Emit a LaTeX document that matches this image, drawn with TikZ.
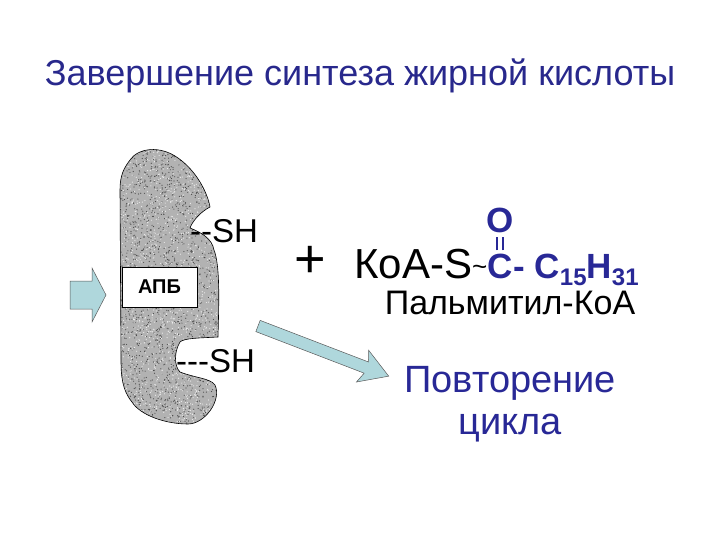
\documentclass[tikz,border=0pt]{standalone}
\usepackage{fontspec}
\setmainfont{Liberation Sans}
\definecolor{ttl}{RGB}{40,40,140}
\definecolor{chem}{RGB}{40,40,150}
\definecolor{arr}{RGB}{175,215,220}
\begin{document}
\begin{tikzpicture}[x=1pt,y=-1pt,
  lbl/.style={inner sep=0pt,anchor=base west},
  blockarrow/.style={fill=arr,draw=gray!70!black,line width=0.5pt}]
\useasboundingbox (0,0) rectangle (720,540);
\node[text=ttl,font=\fontsize{36}{40}\selectfont] (title) at (360,76) {Завершение синтеза жирной кислоты};
% blob
\def\blob{(130,160) .. controls (138,148) and (160,145) .. (178,158)
 .. controls (198,172) and (208,195) .. (210,207)
 .. controls (200,212) and (192,222) .. (190,228)
 .. controls (200,232) and (212,238) .. (214,250)
 .. controls (220,265) and (219,300) .. (218,337)
 .. controls (200,338) and (184,338) .. (180,342)
 .. controls (174,352) and (174,366) .. (180,372)
 .. controls (195,378) and (210,378) .. (215,385)
 .. controls (222,400) and (205,424) .. (188,424)
 .. controls (165,424) and (140,415) .. (132,402)
 .. controls (122,390) and (121,375) .. (121,360)
 -- (120,190) .. controls (120,175) and (124,168) .. (130,160) -- cycle}
\fill[gray!60] \blob;
\begin{scope}
\clip \blob;
\pgfmathsetseed{7}
\foreach \i in {1,...,1800}{
  \pgfmathsetmacro\xx{120+100*rnd}\pgfmathsetmacro\yy{145+282*rnd}
  \fill[black!70] (\xx,\yy) circle (0.6);
}
\foreach \i in {1,...,1500}{
  \pgfmathsetmacro\xx{120+100*rnd}\pgfmathsetmacro\yy{145+282*rnd}
  \fill[gray!15] (\xx,\yy) circle (0.6);
}
\end{scope}
\draw[black,line width=0.6pt] \blob;
\node[draw,fill=white,minimum width=75pt,minimum height=40pt,font=\bfseries\fontsize{20}{24}\selectfont,line width=0.5pt] (apb) at (159.5,287) {АПБ};
\node[lbl,font=\fontsize{33}{36}\selectfont] (sh1) at (190,242) {{-}{-}SH};
\node[lbl,font=\fontsize{33}{36}\selectfont] (sh2) at (176,372) {{-}{-}{-}SH};
% left arrow
\draw[blockarrow] (70,281) -- (92,281) -- (92,268) -- (106,295) -- (92,322) -- (92,309) -- (70,309) -- cycle;
% diagonal arrow
\coordinate (da) at (258,326);
\begin{scope}[shift={(da)},rotate=-21]
\draw[blockarrow] (0,-6) -- (116,-6) -- (112,-17) -- (140,0) -- (112,17) -- (116,6) -- (0,6) -- cycle;
\end{scope}
\node[font=\fontsize{54}{54}\selectfont] (plus) at (310,262) {+};
\node[lbl,font=\fontsize{42}{46}\selectfont] (koa) at (354,278) {КоА-S\raisebox{3pt}{\fontsize{26}{26}\selectfont\textasciitilde}};
\node[lbl,text=chem,font=\bfseries\fontsize{35}{38}\selectfont] (c1) at (koa.base east) {C};
\node[lbl,text=chem,font=\bfseries\fontsize{35}{38}\selectfont] (c2) at (c1.base east) {- C\raisebox{-7pt}{\fontsize{24}{26}\selectfont 15}H\raisebox{-7pt}{\fontsize{24}{26}\selectfont 31}};
\node[text=chem,font=\bfseries\fontsize{35}{38}\selectfont,anchor=south,inner sep=0pt] (o) at ([yshift=20pt]c1.north) {O};
\draw[chem,line width=2pt] ([xshift=-3pt,yshift=3pt]c1.north) -- ([xshift=-3pt,yshift=16pt]c1.north) ([xshift=3pt,yshift=3pt]c1.north) -- ([xshift=3pt,yshift=16pt]c1.north);
\node[font=\fontsize{34}{38}\selectfont] (palm) at (510,303) {Пальмитил-КоА};
\node[text=chem,align=center,font=\fontsize{38}{42}\selectfont] (rep) at (510,404) {Повторение\\цикла};
\end{tikzpicture}
\end{document}
